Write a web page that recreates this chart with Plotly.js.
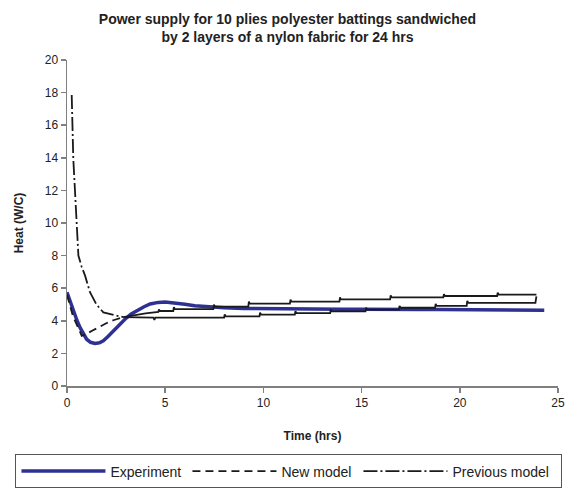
<!DOCTYPE html>
<html>
<head>
<meta charset="utf-8">
<script src="https://cdn.plot.ly/plotly-3.0.1.min.js"></script>
<style>html,body{margin:0;padding:0;background:#fff;}#chart{width:575px;height:492px;}</style>
</head>
<body>
<div id="chart"></div>
<script>
// Experiment (blue)
var expTime = [0, 0.15, 0.32, 0.5, 0.66, 0.85, 1.0, 1.2, 1.43, 1.65, 1.85, 2.1, 2.36, 2.65, 2.95, 3.25, 3.55, 3.9, 4.23, 4.65, 5.0, 5.5, 6.0, 6.5, 7.0, 7.5, 8, 9, 10, 11, 12, 13, 14, 15, 16, 17, 18, 19, 20, 21, 22, 23, 24, 24.3];
var expHeat = [5.75, 5.2, 4.62, 4.05, 3.59, 3.15, 2.87, 2.68, 2.61, 2.65, 2.77, 3.05, 3.38, 3.75, 4.1, 4.4, 4.62, 4.85, 5.03, 5.13, 5.15, 5.1, 5.02, 4.93, 4.87, 4.82, 4.8, 4.76, 4.74, 4.73, 4.72, 4.72, 4.71, 4.71, 4.72, 4.7, 4.7, 4.69, 4.68, 4.68, 4.67, 4.67, 4.66, 4.65];

// New model (dip, then upper staircase)
var newTime = [0, 0.3, 0.75, 1.0, 1.3, 1.6, 2.0, 2.4, 2.87, 3.3, 4.0, 4.65, 4.68, 4.73, 5.41, 5.44, 5.49, 7.45, 7.48, 7.53, 9.23, 9.26, 9.31, 11.35, 11.38, 11.43, 13.87, 13.9, 13.95, 16.45, 16.48, 16.53, 19.16, 19.19, 19.24, 21.9, 21.93, 21.98, 23.9];
var newHeat = [5.6, 4.3, 3.08, 3.2, 3.4, 3.6, 3.85, 4.05, 4.22, 4.32, 4.45, 4.55, 4.7, 4.6, 4.6, 4.84, 4.72, 4.72, 4.99, 4.87, 4.87, 5.17, 5.05, 5.05, 5.3, 5.18, 5.18, 5.44, 5.32, 5.32, 5.56, 5.44, 5.44, 5.64, 5.52, 5.52, 5.72, 5.6, 5.6];

// Previous model (decay, then lower staircase)
var prevTime = [0.24, 0.29, 0.32, 0.41, 0.49, 0.58, 0.75, 0.92, 1.17, 1.5, 1.85, 2.3, 2.87, 4.4, 4.45, 4.5, 8.0, 8.03, 8.08, 9.8, 9.83, 9.88, 11.6, 11.63, 11.68, 13.4, 13.43, 13.48, 15.2, 15.23, 15.28, 16.9, 16.93, 16.98, 18.74, 18.77, 18.82, 20.35, 20.38, 20.43, 23.85, 23.9];
var prevHeat = [17.85, 15.8, 13.95, 11.9, 10.05, 8.0, 7.3, 6.77, 5.75, 5.0, 4.52, 4.38, 4.22, 4.2, 4.05, 4.2, 4.2, 4.39, 4.27, 4.27, 4.5, 4.38, 4.38, 4.59, 4.47, 4.47, 4.7, 4.58, 4.58, 4.8, 4.68, 4.68, 4.92, 4.8, 4.8, 5.04, 4.92, 4.92, 5.22, 5.1, 5.1, 5.5];

var splitTime = 2.87;

function part(tArr, hArr, early) {
  var x = [], y = [];
  for (var i = 0; i < tArr.length; i++) {
    if ((early && tArr[i] <= splitTime) || (!early && tArr[i] >= splitTime)) {
      x.push(tArr[i]); y.push(hArr[i]);
    }
  }
  return {x: x, y: y};
}

var newEarly = part(newTime, newHeat, true), newLate = part(newTime, newHeat, false);
var prevEarly = part(prevTime, prevHeat, true), prevLate = part(prevTime, prevHeat, false);

var black = '#1a1a1a';
var traces = [
  {x: expTime, y: expHeat, mode: 'lines', name: 'Experiment', legendwidth: 72, line: {color: '#2e3192', width: 3.5}},
  {x: newEarly.x, y: newEarly.y, mode: 'lines', name: 'New model', legendwidth: 72, line: {color: black, width: 1.8, dash: '8px,5px'}},
  {x: newLate.x, y: newLate.y, mode: 'lines', name: 'New model', showlegend: false, line: {color: black, width: 1.8}},
  {x: prevEarly.x, y: prevEarly.y, mode: 'lines', name: 'Previous model', legendwidth: 104, line: {color: black, width: 1.8, dash: '14px,3px,2px,3px'}},
  {x: prevLate.x, y: prevLate.y, mode: 'lines', name: 'Previous model', showlegend: false, line: {color: black, width: 1.8}}
];

var fam = 'Liberation Sans, Arial, sans-serif';
var axisFont = {family: fam, size: 12, color: '#222'};
var layout = {
  width: 575, height: 492,
  margin: {l: 67, r: 17, t: 60, b: 106, autoexpand: false},
  paper_bgcolor: '#fff', plot_bgcolor: '#fff',
  font: axisFont,
  title: {
    text: '<b>Power supply for 10 plies polyester battings sandwiched<br>by 2 layers of a nylon fabric for 24 hrs</b>',
    font: {family: fam, size: 14, color: '#222'},
    x: 0.5, xref: 'container', xanchor: 'center',
    y: 0.952, yref: 'container', yanchor: 'top'
  },
  xaxis: {
    range: [0, 25], dtick: 5, showgrid: false, zeroline: false,
    showline: true, linecolor: '#808080', linewidth: 1.5,
    ticks: 'outside', ticklen: 5, tickcolor: '#808080', tickwidth: 1.5,
    tickfont: axisFont, automargin: false,
    title: {text: '<b>Time (hrs)</b>', font: {family: fam, size: 12, color: '#222'}, standoff: 22}
  },
  yaxis: {
    range: [0, 20], dtick: 2, showgrid: false, zeroline: false,
    showline: true, linecolor: '#808080', linewidth: 1.5,
    ticks: 'outside', ticklen: 5, tickcolor: '#808080', tickwidth: 1.5,
    tickfont: axisFont, automargin: false,
    title: {text: '<b>Heat (W/C)</b>', font: {family: fam, size: 12, color: '#222'}, standoff: 18}
  },
  showlegend: true,
  legend: {
    orientation: 'h', x: -0.105, xanchor: 'left',
    y: -0.21, yanchor: 'top',
    bordercolor: '#555', borderwidth: 1, bgcolor: '#fff',
    itemwidth: 84,
    font: {family: fam, size: 14, color: '#222'},
    traceorder: 'normal'
  }
};

Plotly.newPlot('chart', traces, layout, {displayModeBar: false, staticPlot: true});
</script>
</body>
</html>
